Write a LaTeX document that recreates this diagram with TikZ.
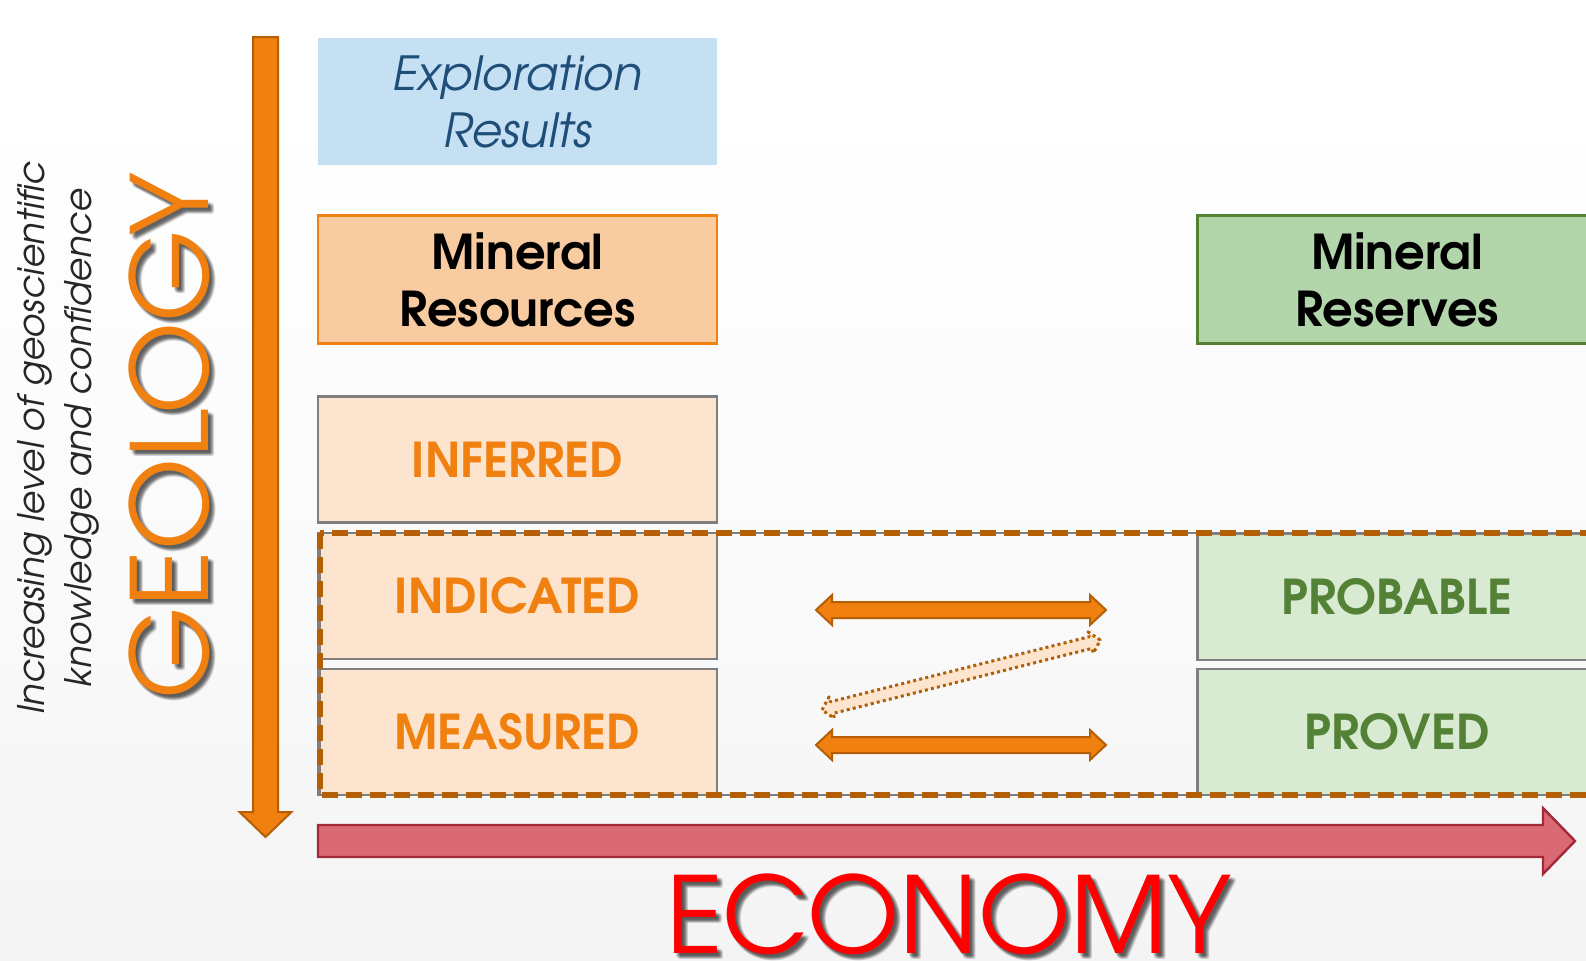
\documentclass[tikz,border=0pt]{standalone}
\usepackage{fontspec}
\setmainfont{texgyreadventor}[Extension=.otf,UprightFont=*-regular,BoldFont=*-bold,ItalicFont=*-italic,BoldItalicFont=*-bolditalic]
\usetikzlibrary{calc}

\definecolor{orF}{HTML}{F08010}
\definecolor{orD}{HTML}{B45F06}
\definecolor{lor}{HTML}{FCE4CE}
\definecolor{mor}{HTML}{F8CBA0}
\definecolor{expfill}{HTML}{C5E0F2}
\definecolor{exptext}{HTML}{1F4E79}
\definecolor{mgreen}{HTML}{B3D5AB}
\definecolor{dgreen}{HTML}{548235}
\definecolor{lgreen}{HTML}{D9EAD3}
\definecolor{gtext}{HTML}{538135}
\definecolor{redF}{HTML}{D96A74}
\definecolor{redD}{HTML}{A3283A}
\definecolor{boxgray}{HTML}{7F7F7F}
\definecolor{ecored}{HTML}{FF0000}

\pgfdeclareverticalshading{bgshade}{100bp}{color(0bp)=(black!7); color(45bp)=(black!2); color(70bp)=(white); color(100bp)=(white)}

\tikzset{
  pics/twohead/.style args={#1/#2/#3/#4}{code={
    \path[pic actions] (0,0) -- (#4,-#3) -- (#4,-#2) -- ({#1-#4},-#2) -- ({#1-#4},-#3)
      -- (#1,0) -- ({#1-#4},#3) -- ({#1-#4},#2) -- (#4,#2) -- (#4,#3) -- cycle;
  }},
  pics/onehead/.style args={#1/#2/#3/#4}{code={
    \path[pic actions] (0,-#2) -- ({#1-#4},-#2) -- ({#1-#4},-#3) -- (#1,0)
      -- ({#1-#4},#3) -- ({#1-#4},#2) -- (0,#2) -- cycle;
  }},
  basebox/.style={rectangle, inner sep=0pt, minimum width=199.5pt, align=center},
  rescls/.style={basebox, draw=boxgray, line width=1.2pt, fill=lor, text=orF,
    font=\fontsize{24}{28}\selectfont\bfseries, minimum height=63pt},
  rescat/.style={basebox, draw=boxgray, line width=1.2pt, fill=lgreen, text=gtext,
    font=\fontsize{24}{28}\selectfont\bfseries, minimum height=63pt},
  headbox/.style={basebox, line width=1.2pt, text=black,
    font=\fontsize{24}{28.5}\selectfont\bfseries, minimum height=64pt},
  fatarrow/.style={fill=orF, draw=orD, line width=1pt, line join=miter},
  shadowtext/.style={text=black, opacity=0.09, inner sep=0pt},
}

\begin{document}
\begin{tikzpicture}[x=0.5pt,y=-0.5pt]
\useasboundingbox (0,0) rectangle (1586,960);
\clip (0,0) rectangle (1586,960);
\shade[shading=bgshade] (0,0) rectangle (1586,960);

% side caption
\node[rotate=90, align=center, inner sep=0pt, text=black!85,
      font=\fontsize{18.3}{23.5}\selectfont\itshape] (caption) at (58,438)
      {Increasing level of geoscientific\\knowledge and confidence};

% GEOLOGY with soft shadow
\foreach \dx/\dy [count=\i] in {2/2,3/3,4/4,5/5,6/4,4/6,3/5,5/3,6/6,2/4}
  \node[shadowtext, rotate=90, anchor=base, font=\fontsize{53}{53}\selectfont]
    (geosh\i) at ({208+\dx},{436+\dy}) {GEOLOGY};
\node[rotate=90, anchor=base, inner sep=0pt, text=orF, font=\fontsize{53}{53}\selectfont]
  (geology) at (208,436) {GEOLOGY};

% vertical geology axis
\pic[fatarrow, rotate=-90] (geoaxis) at (265.5,37) {onehead=800/12.5/26/25};

% economy axis
\pic[fill=redF, draw=redD, line width=1.2pt, line join=miter] (ecoaxis) at (318,841) {onehead=1257/16/33/32};

% ECONOMY with soft shadow
\foreach \dx/\dy [count=\i] in {2/2,3/3,4/4,5/5,6/4,4/6,3/5,5/3,6/6,2/4}
  \node[shadowtext, anchor=base, font=\fontsize{53}{53}\selectfont]
    (ecosh\i) at ({948.5+\dx},{953+\dy}) {ECONOMY};
\node[anchor=base, inner sep=0pt, text=ecored, font=\fontsize{53}{53}\selectfont]
  (economy) at (948.5,953) {ECONOMY};

% left column
\node[basebox, fill=expfill, minimum height=63.5pt, text=exptext,
      font=\fontsize{23.5}{28.5}\selectfont\itshape] (expl) at (517.5,101.5)
      {Exploration\\Results};
\node[headbox, draw=orF, fill=mor] (mres) at (517.5,279.5) {Mineral\\Resources};
\node[rescls] (inf) at (517.5,459.5) {INFERRED};
\node[rescls] (ind) at (517.5,596) {INDICATED};
\node[rescls] (meas) at (517.5,732) {MEASURED};

% right column
\node[headbox, draw=dgreen, fill=mgreen] (mresv) at (1397,279.5) {Mineral\\Reserves};
\node[rescat] (prob) at (1397,597) {PROBABLE};
\node[rescat] (prov) at (1397,732) {PROVED};

% conversion arrows
\pic[fatarrow] (convtop) at (816,610) {twohead=290/8/15/16};
\pic[fatarrow] (convbot) at (816,745) {twohead=290/8/15/16};
\pic[fill=lor, draw=orD, line width=1.5pt, dash pattern=on 1.5pt off 1.6pt, line join=round, rotate=14.1]
  (convdiag) at (822,710) {twohead=287/6/11/10};

% dashed frame around indicated / measured and probable / proved
\draw[boxgray, line width=0.8pt] (320,533) rectangle (1620,795);
\draw[orD, line width=2.6pt, dash pattern=on 8pt off 4pt] (320,533) rectangle (1620,795);
\end{tikzpicture}
\end{document}
